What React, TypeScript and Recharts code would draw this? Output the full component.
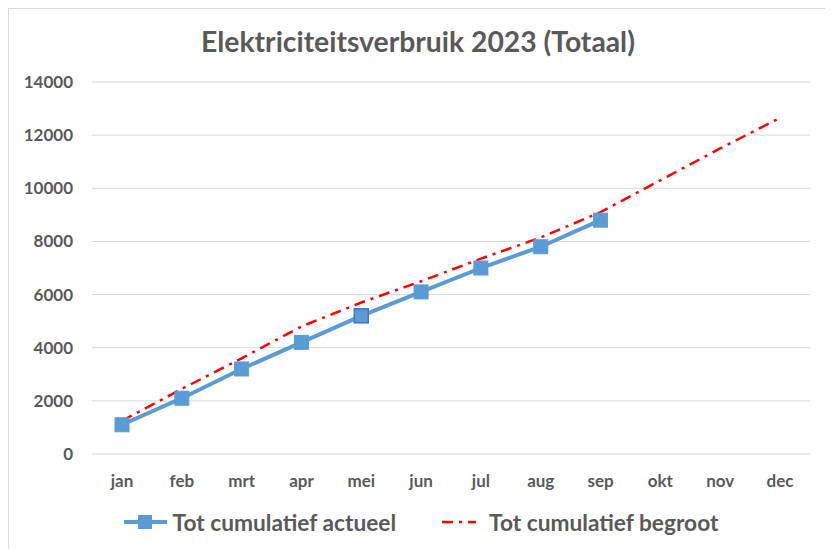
import React from 'react';
import { LineChart, Line, XAxis, YAxis, CartesianGrid, Legend } from 'recharts';

const months = ['jan', 'feb', 'mrt', 'apr', 'mei', 'jun', 'jul', 'aug', 'sep', 'okt', 'nov', 'dec'];
const actueel: (number | null)[] = [1100, 2100, 3200, 4200, 5200, 6100, 7000, 7800, 8800, null, null, null];
const begroot = [1250, 2450, 3600, 4800, 5700, 6500, 7350, 8150, 9100, 10300, 11500, 12650];
const yTicks = [0, 2000, 4000, 6000, 8000, 10000, 12000, 14000];
const highlighted = ['mei'];

const data = months.map((m, i) => ({ month: m, actueel: actueel[i], begroot: begroot[i] }));

const FONT = 'Lato, "Open Sans", sans-serif';
const GRAY = '#595959';
const BLUE = '#5B9BD5';
const RED = '#FF0000';

const SquareDot = (props: any) => {
  const { cx, cy, payload } = props;
  if (cx == null || cy == null || payload.actueel == null) return null;
  const hl = highlighted.includes(payload.month);
  return (
    <rect
      x={cx - 7}
      y={cy - 7}
      width={14}
      height={14}
      fill={BLUE}
      stroke={hl ? '#4472C4' : BLUE}
      strokeWidth={hl ? 1.5 : 1}
    />
  );
};

const LegendContent = () => (
  <div
    style={{
      display: 'flex',
      justifyContent: 'center',
      alignItems: 'center',
      fontFamily: FONT,
      fontWeight: 700,
      fontSize: 22.7,
      color: GRAY,
      height: 24,
      paddingLeft: 22,
    }}
  >
    <svg width={45} height={20} style={{ marginRight: 5 }}>
      <line x1={1} y1={10} x2={44} y2={10} stroke={BLUE} strokeWidth={4} />
      <rect x={15} y={3} width={14} height={14} fill={BLUE} />
    </svg>
    <span>Tot cumulatief actueel</span>
    <svg width={36} height={20} style={{ marginLeft: 45, marginRight: 12 }}>
      <line x1={1} y1={10} x2={35} y2={10} stroke={RED} strokeWidth={2.5} strokeDasharray="11 6 3 6" />
    </svg>
    <span>Tot cumulatief begroot</span>
  </div>
);

export default function App() {
  return (
    <div
      style={{
        position: 'relative',
        width: 820,
        height: 545,
        border: '1px solid #d9d9d9',
        boxSizing: 'border-box',
        background: '#fff',
      }}
    >
      <div
        style={{
          position: 'absolute',
          top: 15,
          left: 0,
          width: '100%',
          textAlign: 'center',
          fontFamily: FONT,
          fontWeight: 700,
          fontSize: 28.3,
          color: GRAY,
        }}
      >
        Elektriciteitsverbruik 2023 (Totaal)
      </div>
      <LineChart
        width={818}
        height={543}
        data={data}
        margin={{ top: 73, right: 17, left: 0, bottom: 18 }}
      >
        <CartesianGrid vertical={false} stroke="#d9d9d9" strokeWidth={1} />
        <XAxis
          dataKey="month"
          axisLine={false}
          tickLine={false}
          height={56}
          tickMargin={15}
          padding={{ left: 30, right: 30 }}
          tick={{ fill: GRAY, fontFamily: FONT, fontWeight: 700, fontSize: 17 }}
          interval={0}
        />
        <YAxis
          width={83}
          domain={[0, 14000]}
          ticks={yTicks}
          axisLine={false}
          tickLine={false}
          tickMargin={13}
          tick={{ fill: GRAY, fontFamily: FONT, fontWeight: 700, fontSize: 17 }}
        />
        <Legend verticalAlign="bottom" content={<LegendContent />} />
        <Line
          type="linear"
          dataKey="actueel"
          stroke={BLUE}
          strokeWidth={4}
          dot={<SquareDot />}
          activeDot={false}
          isAnimationActive={false}
          connectNulls={false}
        />
        <Line
          type="linear"
          dataKey="begroot"
          stroke={RED}
          strokeWidth={2.5}
          strokeDasharray="11 6 3 6"
          dot={false}
          activeDot={false}
          isAnimationActive={false}
        />
      </LineChart>
    </div>
  );
}
